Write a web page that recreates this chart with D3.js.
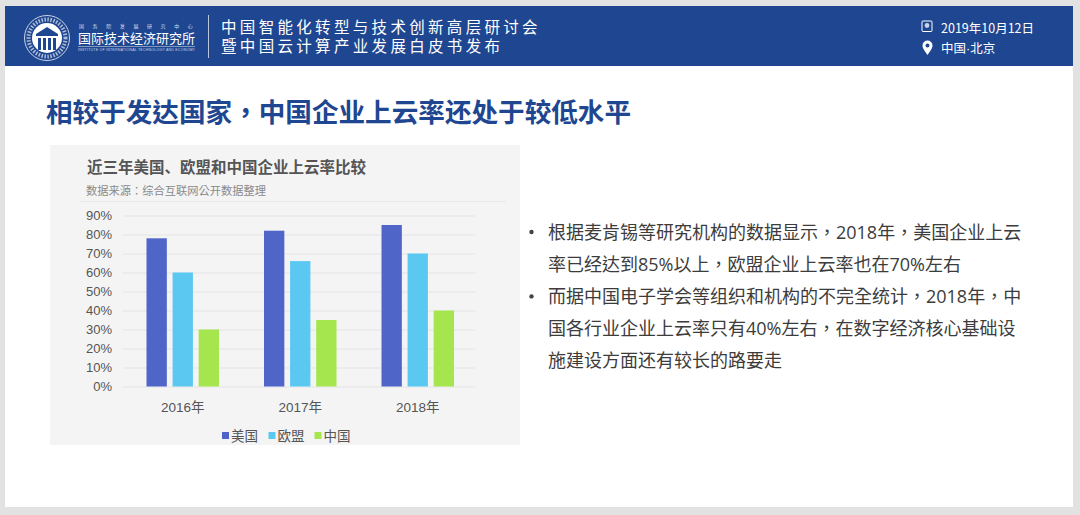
<!DOCTYPE html>
<html>
<head>
<meta charset="utf-8">
<script src="https://cdn.jsdelivr.net/npm/d3@7"></script>
<style>
  html, body { margin: 0; padding: 0; background: #e2e2e2; }
  svg { display: block; }
  text { font-family: "Noto Sans CJK SC", "Liberation Sans", sans-serif; }
  .latin { font-family: "Liberation Sans", "Noto Sans CJK SC", sans-serif; }
  .tc { font-family: "Open Sans", "Noto Sans CJK TC", sans-serif; }
</style>
</head>
<body>
<svg id="slide" width="1080" height="515"></svg>
<script>
const years = ['2016年', '2017年', '2018年']
const seriesNames = ['美国', '欧盟', '中国']
const usValues = [78, 82, 85]
const euValues = [60, 66, 70]
const cnValues = [30, 35, 40]
const yTicks = [0, 10, 20, 30, 40, 50, 60, 70, 80, 90]
const seriesColors = ['#4f66c8', '#5bc8f2', '#a5e64e']

const headerLines = ['中国智能化转型与技术创新高层研讨会', '暨中国云计算产业发展白皮书发布']
const slideTitle = '相较于发达国家，中国企业上云率还处于较低水平'
const chartTitle = '近三年美国、欧盟和中国企业上云率比较'
const chartSource = '数据来源：综合互联网公开数据整理'
const bullets = [
  ['根据麦肯锡等研究机构的数据显示，2018年，美国企业上云', '率已经达到85%以上，欧盟企业上云率也在70%左右'],
  ['而据中国电子学会等组织和机构的不完全统计，2018年，中', '国各行业企业上云率只有40%左右，在数字经济核心基础设', '施建设方面还有较长的路要走']
]

const svg = d3.select('#slide')

// slide + header
svg.append('rect').attr('x', 5).attr('y', 6).attr('width', 1068).attr('height', 501).attr('fill', '#fff')
svg.append('rect').attr('x', 5).attr('y', 6).attr('width', 1068).attr('height', 60).attr('fill', '#1f4690')

// logo
const logo = svg.append('g').attr('transform', 'translate(47, 38)')
logo.append('circle').attr('r', 22.5).attr('fill', 'none').attr('stroke', '#c9d4e6').attr('stroke-width', 1)
logo.append('circle').attr('r', 18.5).attr('fill', 'none').attr('stroke', '#aebcd6').attr('stroke-width', 4).attr('stroke-dasharray', '1.5 1.5')
logo.append('circle').attr('r', 15).attr('fill', '#fff')
logo.append('path').attr('d', 'M-11 -4 L0 -11 L11 -4 L11 -2 L-11 -2 Z').attr('fill', '#1f4690')
logo.selectAll('rect.col').data([-9, -4, 1, 6]).enter().append('rect')
  .attr('class', 'col').attr('x', d => d).attr('y', 0).attr('width', 3).attr('height', 12).attr('fill', '#1f4690')

svg.append('text').attr('x', 79).attr('y', 28).attr('fill', '#d5ddec')
  .attr('font-size', 5).attr('letter-spacing', 8.6).text('国务院发展研究中心')
svg.append('text').attr('x', 78).attr('y', 43).attr('fill', '#fff')
  .attr('font-size', 13).attr('textLength', 117).text('国际技术经济研究所')
svg.append('line').attr('x1', 78).attr('x2', 195).attr('y1', 46.5).attr('y2', 46.5).attr('stroke', '#c9d4e6').attr('stroke-width', 0.6)
svg.append('text').attr('class', 'latin').attr('x', 78).attr('y', 51).attr('fill', '#c9d4e6')
  .attr('font-size', 3.6).attr('textLength', 117).text('INSTITUTE OF INTERNATIONAL TECHNOLOGY AND ECONOMY')
svg.append('line').attr('x1', 208.5).attr('x2', 208.5).attr('y1', 15).attr('y2', 58).attr('stroke', '#b9c6de').attr('stroke-width', 1)

svg.selectAll('text.head').data(headerLines).enter().append('text')
  .attr('class', 'head').attr('x', 221).attr('y', (d, i) => 33 + i * 19)
  .attr('fill', '#fff').attr('font-size', 15.5).attr('letter-spacing', 3.32).text(d => d)

// date + place
svg.append('rect').attr('x', 922).attr('y', 21).attr('width', 10).attr('height', 10.5).attr('rx', 1)
  .attr('fill', 'none').attr('stroke', '#fff').attr('stroke-width', 1)
svg.append('circle').attr('cx', 927).attr('cy', 25.5).attr('r', 2.4).attr('fill', '#c9d4e6')
svg.append('text').attr('x', 941).attr('y', 33).attr('fill', '#fff').attr('font-size', 12.5).text('2019年10月12日')
svg.append('path').attr('d', 'M927.5 55 C924 50 922.5 48 922.5 45.5 A5 5 0 0 1 932.5 45.5 C932.5 48 931 50 927.5 55 Z M927.5 43.5 A2 2 0 1 0 927.5 47.5 A2 2 0 1 0 927.5 43.5 Z')
  .attr('fill', '#fff').attr('fill-rule', 'evenodd')
svg.append('text').attr('class', 'latin').attr('x', 941).attr('y', 53).attr('fill', '#fff').attr('font-size', 12.5).text('中国·北京')

svg.append('text').attr('class', 'tc').attr('x', 46).attr('y', 122).attr('fill', '#1f4690')
  .attr('font-size', 26.6).attr('font-weight', 700).text(slideTitle)

// chart panel
svg.append('rect').attr('x', 50).attr('y', 145).attr('width', 470).attr('height', 300).attr('fill', '#f4f4f4')
svg.append('text').attr('x', 87).attr('y', 173).attr('fill', '#555')
  .attr('font-size', 15.5).attr('font-weight', 700).text(chartTitle)
svg.append('text').attr('class', 'tc').attr('x', 86).attr('y', 195).attr('fill', '#8a8a8a')
  .attr('font-size', 11.25).text(chartSource)
svg.append('line').attr('x1', 80).attr('x2', 506).attr('y1', 201.5).attr('y2', 201.5).attr('stroke', '#e9e9e9')

const x0 = d3.scaleBand().domain(years).range([124, 476.5])
const x1 = d3.scaleBand().domain(seriesNames).range([0, 72.5]).paddingInner(0.22)
const y = d3.scaleLinear().domain([0, 90]).range([386.5, 215.5])

const yAxis = svg.append('g').attr('transform', 'translate(123, 0)')
  .call(d3.axisLeft(y).tickValues(yTicks).tickSize(-352.5).tickPadding(11).tickFormat(d => d + '%'))
yAxis.select('.domain').remove()
yAxis.selectAll('line').attr('stroke', '#e4e4e4')
yAxis.selectAll('text').attr('class', 'latin').attr('fill', '#555').attr('font-size', 13)

const xAxis = svg.append('g').attr('transform', 'translate(0, 386.5)')
  .call(d3.axisBottom(x0).tickSize(0).tickPadding(16))
xAxis.select('.domain').remove()
xAxis.selectAll('text').attr('class', 'latin').attr('fill', '#555').attr('font-size', 13.5)

const seriesValues = [usValues, euValues, cnValues]
seriesNames.forEach((name, s) => {
  svg.append('g').selectAll('rect').data(seriesValues[s]).enter().append('rect')
    .attr('x', (d, i) => x0(years[i]) + (x0.bandwidth() - 72.5) / 2 + x1(name))
    .attr('y', d => y(d))
    .attr('width', x1.bandwidth())
    .attr('height', d => y(0) - y(d))
    .attr('fill', seriesColors[s])
})

// legend
const legendX = d3.scaleOrdinal().domain(seriesNames).range([222, 268.5, 314.5])
const legend = svg.append('g').selectAll('g').data(seriesNames).enter().append('g')
  .attr('transform', d => `translate(${legendX(d)}, 436)`)
legend.append('rect').attr('y', -4).attr('width', 7).attr('height', 7).attr('fill', (d, i) => seriesColors[i])
legend.append('text').attr('x', 9).attr('y', 5).attr('fill', '#555').attr('font-size', 13.5).text(d => d)

// bullets
let lineNo = 0
bullets.forEach(lines => {
  svg.append('circle').attr('cx', 531.5).attr('cy', 232 + lineNo * 32.2).attr('r', 2.2).attr('fill', '#444')
  lines.forEach(line => {
    svg.append('text').attr('class', 'tc').attr('x', 548).attr('y', 238.5 + lineNo * 32.2)
      .attr('fill', '#3c3c3c').attr('font-size', 18).text(line)
    lineNo++
  })
})
</script>
</body>
</html>
